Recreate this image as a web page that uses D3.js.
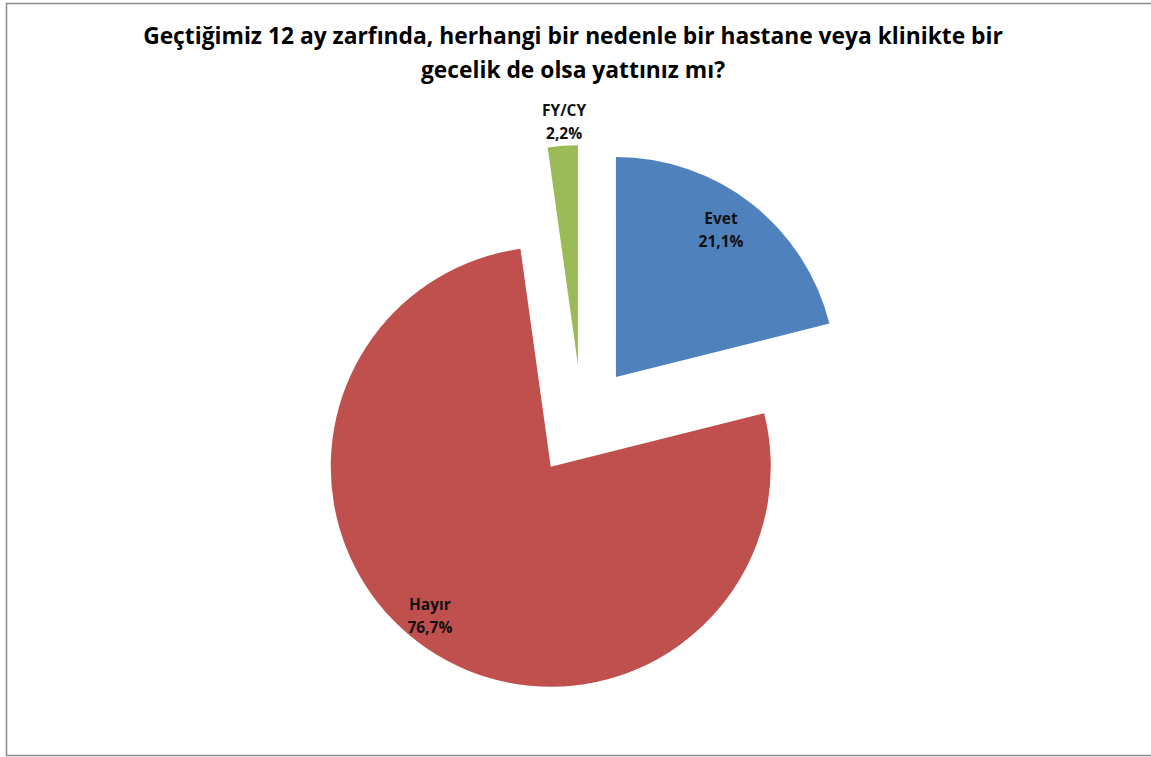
<!DOCTYPE html>
<html>
<head>
<meta charset="utf-8">
<script src="https://cdn.jsdelivr.net/npm/d3@7"></script>
<style>
  html, body { margin: 0; padding: 0; background: #fff; }
  svg { display: block; }
</style>
</head>
<body>
<svg id="chart" width="1151" height="757"></svg>
<script>
// ---- data ----
const categories = ["Evet", "Hayır", "FY/CY"];
const values = [21.1, 76.7, 2.2];
const valueLabels = ["21,1%", "76,7%", "2,2%"];
const titleLines = ["Geçtiğimiz 12 ay zarfında, herhangi bir nedenle bir hastane veya klinikte bir", "gecelik de olsa yattınız mı?"];

// ---- style ----
const colors = ["#4F81BD", "#C0504D", "#9BBB59"];
const cx = 581.8, cy = 420.7, radius = 220, explode = 55.5;
// label placement: radius from slice apex and angle tweak (degrees)
const labelPlace = [
  { r: 181, dAngle: -2.5 },
  { r: 192, dAngle: 5 },
  { r: 244, dAngle: 0.7 }
];

const svg = d3.select("#chart");

// frame
svg.append("rect")
  .attr("x", 6.5).attr("y", 3.5)
  .attr("width", 1150).attr("height", 752)
  .attr("fill", "#fff")
  .attr("stroke", "#8c8c8c").attr("stroke-width", 1.5);

// title
const title = svg.append("text")
  .attr("text-anchor", "middle")
  .attr("font-family", "'Open Sans', sans-serif")
  .attr("font-weight", "bold")
  .attr("font-size", 22.8)
  .attr("fill", "#000");
titleLines.forEach((t, i) => {
  title.append("tspan").attr("x", 573).attr("y", 44 + i * 34).text(t);
});

const pie = d3.pie().sort(null).value(d => d).startAngle(0).endAngle(2 * Math.PI);
const arcs = pie(values);
const arc = d3.arc().innerRadius(0).outerRadius(radius);

const g = svg.append("g").attr("transform", `translate(${cx},${cy})`);

arcs.forEach((a, i) => {
  const mid = (a.startAngle + a.endAngle) / 2;
  const ox = explode * Math.sin(mid), oy = -explode * Math.cos(mid);
  const sg = g.append("g").attr("transform", `translate(${ox},${oy})`);
  sg.append("path").attr("d", arc(a)).attr("fill", colors[i]);

  const la = mid + labelPlace[i].dAngle * Math.PI / 180;
  const lr = labelPlace[i].r;
  const lx = lr * Math.sin(la), ly = -lr * Math.cos(la);
  const txt = sg.append("text")
    .attr("text-anchor", "middle")
    .attr("font-family", "'Open Sans', sans-serif")
    .attr("font-weight", "bold")
    .attr("font-size", 15.5)
    .attr("fill", "#111");
  txt.append("tspan").attr("x", lx).attr("y", ly - 6).text(categories[i]);
  txt.append("tspan").attr("x", lx).attr("y", ly + 17).text(valueLabels[i]);
});
</script>
</body>
</html>
